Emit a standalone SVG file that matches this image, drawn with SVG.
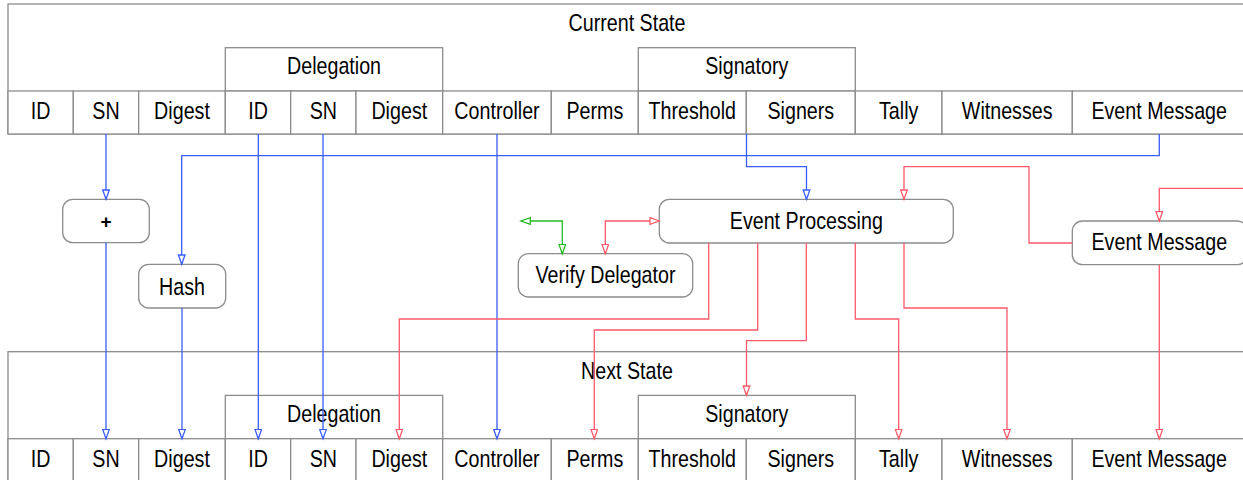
<svg xmlns="http://www.w3.org/2000/svg" width="1243" height="480" viewBox="0 0 1243 480">
<style>
.cell{fill:#fff;stroke:#8c8c8c;stroke-width:1.3}
.grp{fill:none;stroke:#8c8c8c;stroke-width:1.3}
.node{fill:#fff;stroke:#8c8c8c;stroke-width:1.3}
text{font-family:"Liberation Sans",Arial,sans-serif;font-size:24px;fill:#000;text-anchor:middle}
.b{fill:none;stroke:#3a5cff;stroke-width:1.3}
.r{fill:none;stroke:#ff5a6a;stroke-width:1.3}
.g{fill:none;stroke:#22bb22;stroke-width:1.3}
</style>
<defs>
<marker id="ab" markerUnits="userSpaceOnUse" markerWidth="12" markerHeight="10" refX="10" refY="4" orient="auto-start-reverse"><path d="M0.7,0.7 L10,4 L0.7,7.3 z" fill="#fff" stroke="#3a5cff" stroke-width="1.3"/></marker>
<marker id="ar" markerUnits="userSpaceOnUse" markerWidth="12" markerHeight="10" refX="10" refY="4" orient="auto-start-reverse"><path d="M0.7,0.7 L10,4 L0.7,7.3 z" fill="#fff" stroke="#ff5a6a" stroke-width="1.3"/></marker>
<marker id="ag" markerUnits="userSpaceOnUse" markerWidth="12" markerHeight="10" refX="10" refY="4" orient="auto-start-reverse"><path d="M0.7,0.7 L10,4 L0.7,7.3 z" fill="#fff" stroke="#22bb22" stroke-width="1.3"/></marker>
</defs>

<g id="current-state">
<rect class="cell" x="8" y="4" width="1238" height="130"/>
<text transform="translate(627,31) scale(0.82,1)">Current State</text>
<rect class="grp" x="225.3" y="47.7" width="217.4" height="43.3"/>
<text transform="translate(334,74) scale(0.82,1)">Delegation</text>
<rect class="grp" x="638.3" y="47.7" width="217" height="43.3"/>
<text transform="translate(746.8,74) scale(0.82,1)">Signatory</text>
<rect class="cell" x="8" y="91" width="65.3" height="43"/><text transform="translate(40.7,119) scale(0.82,1)">ID</text>
<rect class="cell" x="73.3" y="91" width="65.4" height="43"/><text transform="translate(106,119) scale(0.82,1)">SN</text>
<rect class="cell" x="138.7" y="91" width="86.6" height="43"/><text transform="translate(182,119) scale(0.82,1)">Digest</text>
<rect class="cell" x="225.3" y="91" width="65.4" height="43"/><text transform="translate(258,119) scale(0.82,1)">ID</text>
<rect class="cell" x="290.7" y="91" width="65.3" height="43"/><text transform="translate(323.3,119) scale(0.82,1)">SN</text>
<rect class="cell" x="356" y="91" width="86.7" height="43"/><text transform="translate(399.3,119) scale(0.82,1)">Digest</text>
<rect class="cell" x="442.7" y="91" width="108.6" height="43"/><text transform="translate(497,119) scale(0.82,1)">Controller</text>
<rect class="cell" x="551.3" y="91" width="87" height="43"/><text transform="translate(594.8,119) scale(0.82,1)">Perms</text>
<rect class="cell" x="638.3" y="91" width="108" height="43"/><text transform="translate(692.3,119) scale(0.82,1)">Threshold</text>
<rect class="cell" x="746.3" y="91" width="109" height="43"/><text transform="translate(800.8,119) scale(0.82,1)">Signers</text>
<rect class="cell" x="855.3" y="91" width="86.7" height="43"/><text transform="translate(898.7,119) scale(0.82,1)">Tally</text>
<rect class="cell" x="942" y="91" width="130.3" height="43"/><text transform="translate(1007.2,119) scale(0.82,1)">Witnesses</text>
<rect class="cell" x="1072.3" y="91" width="173.7" height="43"/><text transform="translate(1159.2,119) scale(0.82,1)">Event Message</text>
</g>

<g id="next-state" transform="translate(0,347.7)">
<rect class="cell" x="8" y="4" width="1238" height="130"/>
<text transform="translate(627,31) scale(0.82,1)">Next State</text>
<rect class="grp" x="225.3" y="47.7" width="217.4" height="43.3"/>
<text transform="translate(334,74) scale(0.82,1)">Delegation</text>
<rect class="grp" x="638.3" y="47.7" width="217" height="43.3"/>
<text transform="translate(746.8,74) scale(0.82,1)">Signatory</text>
<rect class="cell" x="8" y="91" width="65.3" height="43"/><text transform="translate(40.7,119) scale(0.82,1)">ID</text>
<rect class="cell" x="73.3" y="91" width="65.4" height="43"/><text transform="translate(106,119) scale(0.82,1)">SN</text>
<rect class="cell" x="138.7" y="91" width="86.6" height="43"/><text transform="translate(182,119) scale(0.82,1)">Digest</text>
<rect class="cell" x="225.3" y="91" width="65.4" height="43"/><text transform="translate(258,119) scale(0.82,1)">ID</text>
<rect class="cell" x="290.7" y="91" width="65.3" height="43"/><text transform="translate(323.3,119) scale(0.82,1)">SN</text>
<rect class="cell" x="356" y="91" width="86.7" height="43"/><text transform="translate(399.3,119) scale(0.82,1)">Digest</text>
<rect class="cell" x="442.7" y="91" width="108.6" height="43"/><text transform="translate(497,119) scale(0.82,1)">Controller</text>
<rect class="cell" x="551.3" y="91" width="87" height="43"/><text transform="translate(594.8,119) scale(0.82,1)">Perms</text>
<rect class="cell" x="638.3" y="91" width="108" height="43"/><text transform="translate(692.3,119) scale(0.82,1)">Threshold</text>
<rect class="cell" x="746.3" y="91" width="109" height="43"/><text transform="translate(800.8,119) scale(0.82,1)">Signers</text>
<rect class="cell" x="855.3" y="91" width="86.7" height="43"/><text transform="translate(898.7,119) scale(0.82,1)">Tally</text>
<rect class="cell" x="942" y="91" width="130.3" height="43"/><text transform="translate(1007.2,119) scale(0.82,1)">Witnesses</text>
<rect class="cell" x="1072.3" y="91" width="173.7" height="43"/><text transform="translate(1159.2,119) scale(0.82,1)">Event Message</text>
</g>

<g id="plus">
<rect class="node" x="62.7" y="199.3" width="86.6" height="43.4" rx="10"/>
<text x="106" y="227.5" style="font-size:19px;font-weight:bold">+</text>
</g>
<g id="hash">
<rect class="node" x="138.7" y="264.3" width="87" height="43.7" rx="10"/>
<text transform="translate(182,294.5) scale(0.82,1)">Hash</text>
</g>
<g id="verify-delegator">
<rect class="node" x="518.3" y="253.7" width="174.4" height="43.3" rx="10"/>
<text transform="translate(605.5,283) scale(0.82,1)">Verify Delegator</text>
</g>
<g id="event-processing">
<rect class="node" x="659.3" y="199.3" width="294" height="43.7" rx="10"/>
<text transform="translate(806.3,228.5) scale(0.82,1)">Event Processing</text>
</g>
<g id="event-message">
<rect class="node" x="1072.3" y="221" width="175" height="43.7" rx="10"/>
<text transform="translate(1159.3,250) scale(0.82,1)">Event Message</text>
</g>

<g id="connectors">
<path class="b" d="M106,134 V199.3" marker-end="url(#ab)"/>
<path class="b" d="M106,242.7 V438.7" marker-end="url(#ab)"/>
<path class="b" d="M1159.3,134 V155.7 H181.7 V264.3" marker-end="url(#ab)"/>
<path class="b" d="M182,308 V438.7" marker-end="url(#ab)"/>
<path class="b" d="M258.3,134 V438.7" marker-end="url(#ab)"/>
<path class="b" d="M323,134 V438.7" marker-end="url(#ab)"/>
<path class="b" d="M497,134 V438.7" marker-end="url(#ab)"/>
<path class="b" d="M746.5,134 V166.7 H806.5 V199.3" marker-end="url(#ab)"/>
<path class="r" d="M1072.3,243 H1029 V166.7 H904 V199.3" marker-end="url(#ar)"/>
<path class="r" d="M1250,188.3 H1159.3 V221" marker-end="url(#ar)"/>
<path class="r" d="M1159.3,264.7 V438.7" marker-end="url(#ar)"/>
<path class="r" d="M708.7,243 V319 H399.3 V438.7" marker-end="url(#ar)"/>
<path class="r" d="M757.7,243 V330 H594.3 V438.7" marker-end="url(#ar)"/>
<path class="r" d="M806.3,243 V340.7 H746.5 V395.3" marker-end="url(#ar)"/>
<path class="r" d="M855.3,243 V319 H898.7 V438.7" marker-end="url(#ar)"/>
<path class="r" d="M904,243 V308 H1007 V438.7" marker-end="url(#ar)"/>
<path class="r" d="M605.3,253.7 V221 H659.3" marker-start="url(#ar)" marker-end="url(#ar)"/>
<path class="g" d="M562.3,253.7 V221 H521" marker-start="url(#ag)" marker-end="url(#ag)"/>
</g>
</svg>
